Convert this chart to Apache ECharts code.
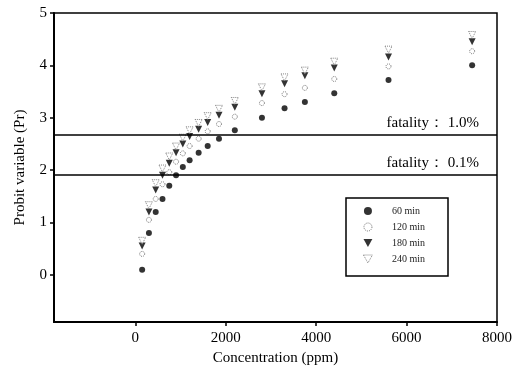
<!DOCTYPE html>
<html>
<head>
<meta charset="utf-8">
<script src="https://cdn.jsdelivr.net/npm/echarts@6/dist/echarts.min.js"></script>
<style>html,body{margin:0;padding:0;background:#fff}#c{width:521px;height:376px}</style>
</head>
<body>
<div id="c"></div>
<script>
var concentrations = [150, 300, 450, 600, 750, 900, 1050, 1200, 1400, 1600, 1850, 2200, 2800, 3300, 3750, 4400, 5600, 7450];
var pr60  = [0.10, 0.80, 1.20, 1.45, 1.70, 1.90, 2.06, 2.19, 2.33, 2.46, 2.60, 2.76, 3.00, 3.18, 3.30, 3.47, 3.72, 4.00];
var pr120 = [0.40, 1.05, 1.45, 1.73, 1.96, 2.16, 2.32, 2.46, 2.60, 2.74, 2.88, 3.02, 3.28, 3.45, 3.57, 3.74, 3.98, 4.27];
var pr180 = [0.55, 1.20, 1.62, 1.90, 2.13, 2.33, 2.50, 2.64, 2.78, 2.91, 3.05, 3.20, 3.46, 3.65, 3.80, 3.95, 4.16, 4.45];
var pr240 = [0.65, 1.33, 1.75, 2.03, 2.26, 2.45, 2.62, 2.76, 2.90, 3.03, 3.17, 3.32, 3.58, 3.77, 3.90, 4.07, 4.30, 4.58];
var seriesNames = ['60 min', '120 min', '180 min', '240 min'];
var xTicks = [0, 2000, 4000, 6000, 8000];
var yTicks = [0, 1, 2, 3, 4, 5];
var fatality1 = 2.67, fatality01 = 1.91;
var fatalityLabels = ['fatality\uFF1A 1.0%', 'fatality\uFF1A 0.1%'];

function pairs(ys){ return concentrations.map(function(c,i){ return [c, ys[i]]; }); }
var serif = '"Liberation Serif", "DejaVu Serif", serif';
var downTri = 'path://M0,0 L10,0 L5,9 Z';
var styles = [
  { symbol: 'circle', size: 6, itemStyle: { color: '#000' } },
  { symbol: 'circle', size: 5, itemStyle: { color: '#fff', borderColor: '#555', borderWidth: 1, borderType: 'dotted' } },
  { symbol: downTri, size: [7, 7], itemStyle: { color: '#000' } },
  { symbol: downTri, size: [7, 7], itemStyle: { color: '#fff', borderColor: '#666', borderWidth: 1, borderType: 'dotted' } }
];
var allData = [pr60, pr120, pr180, pr240];

var series = seriesNames.map(function(n, k){
  var s = { name: n, type: 'scatter', data: pairs(allData[k]), symbol: styles[k].symbol,
            symbolSize: styles[k].size, itemStyle: styles[k].itemStyle };
  if (k === 0) {
    s.markLine = {
      silent: true, symbol: 'none',
      lineStyle: { color: '#000', width: 1.5, type: 'solid' },
      label: { show: true, position: 'insideEndTop', fontFamily: serif, fontSize: 15, color: '#000', distance: [18, 4] },
      data: [
        { yAxis: fatality1, label: { formatter: fatalityLabels[0] } },
        { yAxis: fatality01, label: { formatter: fatalityLabels[1] } }
      ]
    };
  }
  return s;
});

var chart = echarts.init(document.getElementById('c'));
chart.setOption({
  animation: false,
  backgroundColor: '#fff',
  grid: { left: 54, right: 24, top: 13, bottom: 54, show: true, borderColor: '#000', borderWidth: 1.5 },
  xAxis: {
    type: 'value', min: -1800, max: 8000,
    name: 'Concentration (ppm)', nameLocation: 'middle', nameGap: 28,
    nameTextStyle: { fontFamily: serif, fontSize: 15, color: '#000' },
    axisLine: { show: true, onZero: false, lineStyle: { color: '#000', width: 2 } },
    axisTick: { show: true, customValues: xTicks, length: 4, lineStyle: { color: '#000', width: 1.5 } },
    axisLabel: { customValues: xTicks, formatter: function(v){ return String(v); }, fontFamily: serif, fontSize: 15, color: '#000', margin: 9 },
    splitLine: { show: false }
  },
  yAxis: {
    type: 'value', min: -0.9, max: 5,
    name: 'Probit variable (Pr)', nameLocation: 'middle', nameGap: 26,
    nameTextStyle: { fontFamily: serif, fontSize: 15, color: '#000' },
    axisLine: { show: true, onZero: false, lineStyle: { color: '#000', width: 2 } },
    axisTick: { show: true, customValues: yTicks, length: 4, lineStyle: { color: '#000', width: 1.5 } },
    axisLabel: { customValues: yTicks, formatter: function(v){ return String(v); }, fontFamily: serif, fontSize: 15, color: '#000', margin: 7 },
    splitLine: { show: false }
  },
  legend: {
    orient: 'vertical', left: 346, top: 198,
    padding: [8, 23, 12, 17],
    itemWidth: 14, itemHeight: 8, itemGap: 6,
    borderColor: '#000', borderWidth: 1.5,
    textStyle: { fontFamily: serif, fontSize: 10, color: '#222', padding: [0, 0, 0, 12] },
    data: seriesNames.map(function(n, k){
      return { name: n, icon: styles[k].symbol, itemStyle: styles[k].itemStyle };
    })
  },
  series: series
});
</script>
</body>
</html>
